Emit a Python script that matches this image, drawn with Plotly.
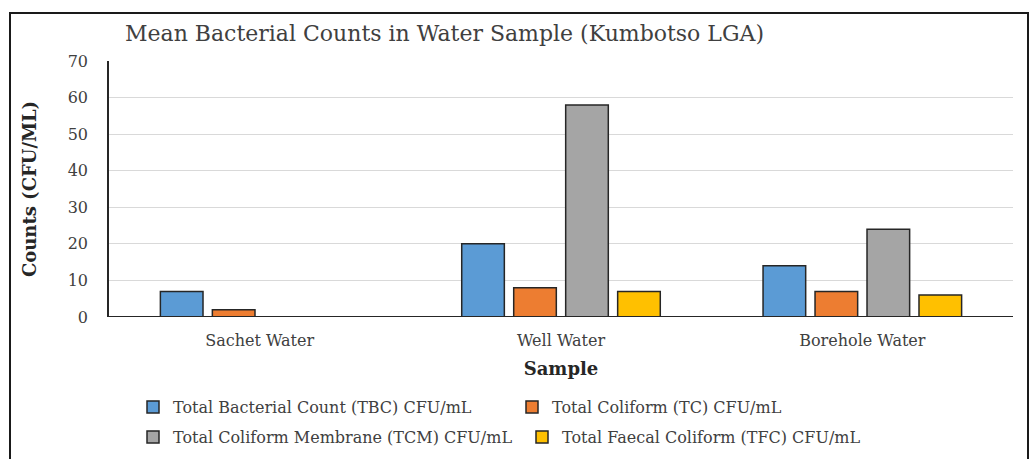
import plotly.graph_objects as go

categories = ["Sachet Water", "Well Water", "Borehole Water"]
series_names = [
    "Total Bacterial Count (TBC) CFU/mL",
    "Total Coliform (TC) CFU/mL",
    "Total Coliform Membrane (TCM) CFU/mL",
    "Total Faecal Coliform (TFC) CFU/mL",
]
tbc = [7, 20, 14]
tc = [2, 8, 7]
tcm = [0, 58, 24]
tfc = [0, 7, 6]
y_ticks = [0, 10, 20, 30, 40, 50, 60, 70]

colors = ["#5b9bd5", "#ed7d31", "#a5a5a5", "#ffc000"]
FONT = "DejaVu Serif"

W, H = 1029, 459
L, R, T, B = 109, 16, 61, 142
pw, ph = W - L - R, H - T - B


def px(x):
    return (x - L) / pw


def py(y):
    return (H - B - y) / ph


legend_ids = ["legend", "legend2", "legend3", "legend4"]
# text start x and row centre y of each legend entry, in pixels
legend_pos = [(173, 407), (552, 407), (173, 437), (562, 437)]

fig = go.Figure()
for i, (name, vals) in enumerate(zip(series_names, [tbc, tc, tcm, tfc])):
    fig.add_trace(go.Bar(
        x=categories, y=vals, name=name, showlegend=True,
        marker=dict(color=colors[i], line=dict(color="#262626", width=1.5)),
        legend=legend_ids[i],
    ))

legend_layout = {}
for lid, (tx, ty) in zip(legend_ids, legend_pos):
    legend_layout[lid] = dict(
        orientation="h", x=px(tx - 40), xanchor="left", y=py(ty), yanchor="middle",
        bgcolor="rgba(0,0,0,0)", borderwidth=0, itemclick=False, visible=True,
        font=dict(family=FONT, size=16, color="#404040"),
    )

fig.update_layout(
    width=W, height=H, showlegend=True,
    margin=dict(l=L, r=R, t=T, b=B, autoexpand=False),
    paper_bgcolor="white", plot_bgcolor="white",
    bargap=0.31, bargroupgap=0.18,
    font=dict(family=FONT, color="#404040"),
    title=dict(text="Mean Bacterial Counts in Water Sample (Kumbotso LGA)",
               x=125 / W, xanchor="left", y=1 - 33 / H, yanchor="middle",
               font=dict(family=FONT, size=22, color="#404040")),
    xaxis=dict(
        title=dict(text="<b>Sample</b>", font=dict(family=FONT, size=18, color="#262626"), standoff=13),
        tickfont=dict(family=FONT, size=16, color="#404040"),
        showline=False,
        showgrid=False, ticks="", ticklabelstandoff=12,
    ),
    yaxis=dict(
        title=dict(text="<b>Counts (CFU/ML)</b>", font=dict(family=FONT, size=18, color="#262626"), standoff=26),
        range=[0, 70], tickvals=y_ticks,
        tickfont=dict(family=FONT, size=16, color="#404040"),
        showline=True, linecolor="#262626", linewidth=1.5,
        gridcolor="#d9d9d9", gridwidth=1, zeroline=False,
        ticks="", ticklabelstandoff=16,
    ),
    shapes=[
        dict(type="rect", xref="paper", yref="paper",
             x0=px(10), x1=px(1028), y0=py(470), y1=py(13),
             line=dict(color="#1a1a1a", width=2), fillcolor="rgba(0,0,0,0)", layer="below"),
        # category axis baseline, drawn above the bars
        dict(type="line", xref="paper", yref="y", x0=-0.001, x1=1, y0=0, y1=0,
             line=dict(color="#262626", width=2), layer="above"),
    ],
    **legend_layout,
)

fig.write_html("out.html", config={"displayModeBar": False},
               post_script="document.body.style.margin='0';")
